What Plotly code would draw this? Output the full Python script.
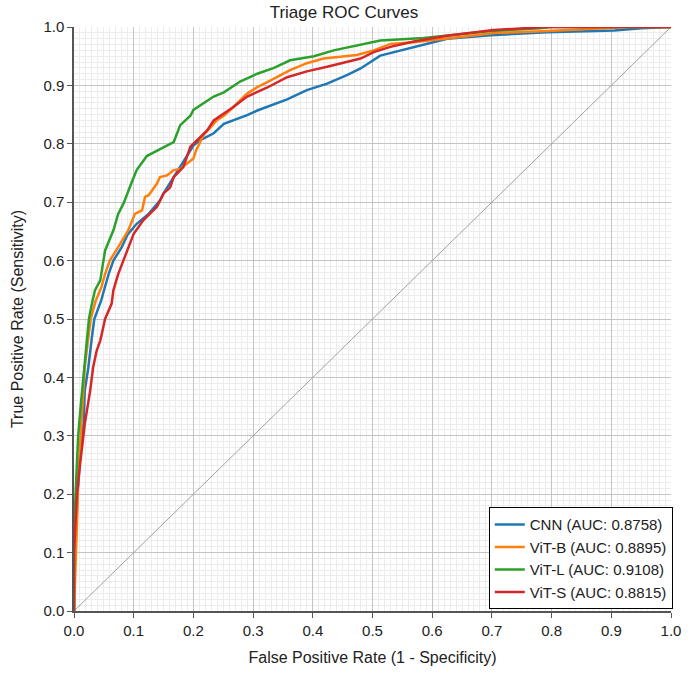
import plotly.graph_objects as go

models = ["CNN", "ViT-B", "ViT-L", "ViT-S"]
aucs = [0.8758, 0.8895, 0.9108, 0.8815]
colors = ["#1f77b4", "#ff7f0e", "#2ca02c", "#d62728"]

cnn_fpr = [0, 0, 0.003, 0.006, 0.010, 0.016, 0.018, 0.024, 0.030, 0.034, 0.045, 0.052, 0.058, 0.066, 0.080, 0.090, 0.105, 0.125, 0.144, 0.150, 0.167, 0.189, 0.200, 0.211, 0.234, 0.251, 0.267, 0.290, 0.307, 0.323, 0.357, 0.390, 0.424, 0.458, 0.480, 0.513, 0.547, 0.586, 0.625, 0.698, 0.793, 0.905, 0.95, 1.0]
cnn_tpr = [0, 0.05, 0.12, 0.20, 0.26, 0.32, 0.377, 0.417, 0.469, 0.50, 0.53, 0.555, 0.577, 0.60, 0.623, 0.645, 0.663, 0.680, 0.703, 0.715, 0.743, 0.778, 0.797, 0.806, 0.818, 0.834, 0.840, 0.849, 0.857, 0.863, 0.876, 0.892, 0.903, 0.918, 0.929, 0.951, 0.960, 0.971, 0.980, 0.986, 0.991, 0.994, 0.998, 1.0]

vitb_fpr = [0, 0.003, 0.005, 0.007, 0.010, 0.013, 0.018, 0.023, 0.028, 0.036, 0.046, 0.052, 0.060, 0.074, 0.091, 0.102, 0.114, 0.119, 0.125, 0.139, 0.144, 0.156, 0.167, 0.178, 0.200, 0.205, 0.217, 0.239, 0.251, 0.267, 0.290, 0.307, 0.323, 0.362, 0.390, 0.418, 0.435, 0.474, 0.502, 0.530, 0.569, 0.642, 0.709, 0.793, 0.904, 0.93, 1.0]
vitb_tpr = [0, 0.08, 0.15, 0.23, 0.28, 0.32, 0.417, 0.46, 0.50, 0.53, 0.555, 0.577, 0.600, 0.623, 0.652, 0.680, 0.686, 0.709, 0.712, 0.732, 0.743, 0.746, 0.755, 0.757, 0.775, 0.790, 0.815, 0.840, 0.848, 0.863, 0.886, 0.897, 0.905, 0.926, 0.938, 0.946, 0.948, 0.952, 0.960, 0.971, 0.974, 0.983, 0.990, 0.993, 0.998, 1.0, 1.0]

vitl_fpr = [0, 0, 0.003, 0.007, 0.012, 0.016, 0.020, 0.025, 0.030, 0.035, 0.044, 0.049, 0.052, 0.066, 0.074, 0.083, 0.090, 0.097, 0.105, 0.122, 0.141, 0.167, 0.178, 0.195, 0.200, 0.234, 0.251, 0.279, 0.307, 0.335, 0.362, 0.402, 0.435, 0.474, 0.513, 0.586, 0.642, 0.698, 0.78, 0.80, 1.0]
vitl_tpr = [0, 0.13, 0.21, 0.30, 0.36, 0.40, 0.45, 0.50, 0.526, 0.549, 0.566, 0.597, 0.617, 0.652, 0.680, 0.698, 0.715, 0.735, 0.755, 0.779, 0.789, 0.803, 0.832, 0.848, 0.858, 0.881, 0.888, 0.907, 0.920, 0.930, 0.943, 0.950, 0.960, 0.968, 0.977, 0.981, 0.987, 0.993, 0.998, 1.0, 1.0]

vits_fpr = [0, 0, 0.002, 0.005, 0.010, 0.013, 0.018, 0.027, 0.032, 0.038, 0.044, 0.049, 0.052, 0.063, 0.066, 0.074, 0.083, 0.091, 0.100, 0.116, 0.139, 0.150, 0.161, 0.167, 0.183, 0.195, 0.211, 0.223, 0.234, 0.267, 0.290, 0.323, 0.357, 0.390, 0.424, 0.458, 0.480, 0.502, 0.530, 0.569, 0.625, 0.703, 0.793, 1.0]
vits_tpr = [0, 0.10, 0.14, 0.20, 0.25, 0.28, 0.32, 0.377, 0.417, 0.446, 0.463, 0.486, 0.50, 0.526, 0.549, 0.577, 0.60, 0.623, 0.646, 0.669, 0.692, 0.715, 0.725, 0.743, 0.760, 0.795, 0.812, 0.823, 0.840, 0.863, 0.881, 0.896, 0.914, 0.924, 0.932, 0.940, 0.946, 0.957, 0.966, 0.975, 0.985, 0.995, 1.0, 1.0]

fprs = [cnn_fpr, vitb_fpr, vitl_fpr, vits_fpr]
tprs = [cnn_tpr, vitb_tpr, vitl_tpr, vits_tpr]

diag = [0, 1]

fig = go.Figure()
fig.add_trace(go.Scatter(x=diag, y=diag, mode="lines", line=dict(color="#a0a0a0", width=1),
                         showlegend=False, hoverinfo="skip"))
for name, auc, col, fx, ty in zip(models, aucs, colors, fprs, tprs):
    fig.add_trace(go.Scatter(x=fx, y=ty, mode="lines", name=f"{name} (AUC: {auc:.4f})",
                             line=dict(color=col, width=2.5)))

axis_common = dict(
    range=[0, 1], dtick=0.1, tickformat=".1f", automargin=False,
    showgrid=True, gridcolor="#c4c4c4", gridwidth=1,
    minor=dict(dtick=0.01, showgrid=True, gridcolor="#ececec", gridwidth=1),
    showline=True, linecolor="#555555", linewidth=1.5,
    ticks="outside", ticklen=5, tickcolor="#555555",
    zeroline=False, tickfont=dict(size=15, color="#222"),
)

fig.update_layout(
    width=688, height=673,
    margin=dict(l=74, r=17, t=27, b=62),
    paper_bgcolor="white", plot_bgcolor="white",
    font=dict(family="Liberation Sans, Arial, sans-serif", color="#222"),
    title=dict(text="Triage ROC Curves", x=0.5, xanchor="center", y=0.982, yanchor="middle",
               font=dict(size=17, color="#222")),
    xaxis=dict(title=dict(text="False Positive Rate (1 - Specificity)", font=dict(size=16), standoff=14), **axis_common),
    yaxis=dict(title=dict(text="True Positive Rate (Sensitivity)", font=dict(size=16), standoff=16), **axis_common),
    legend=dict(x=1.003, y=0.003, xanchor="right", yanchor="bottom",
                bgcolor="white", bordercolor="black", borderwidth=1,
                font=dict(size=15, color="#222"), tracegroupgap=2, itemwidth=30),
)

fig.write_html("out.html")
